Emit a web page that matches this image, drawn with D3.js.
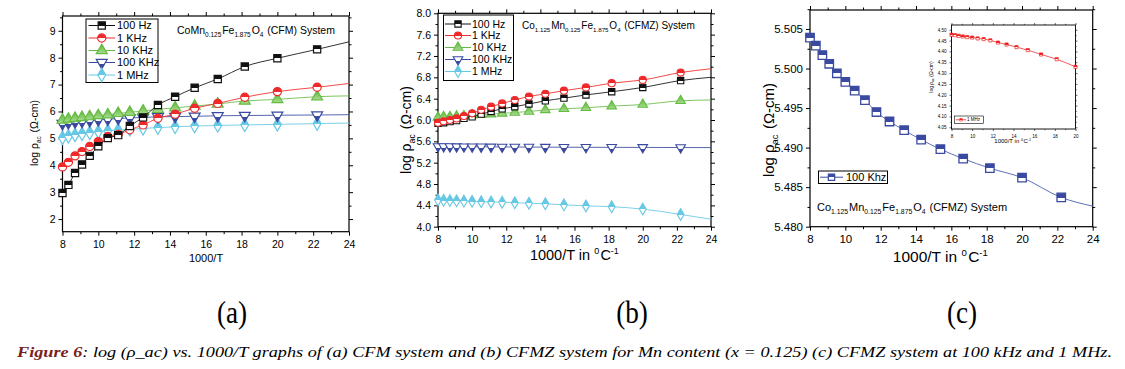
<!DOCTYPE html>
<html><head><meta charset="utf-8">
<script src="https://cdn.jsdelivr.net/npm/d3@7/dist/d3.min.js"></script>
<style>
body{margin:0;background:#fff;}
svg text{font-family:"Liberation Sans",Arial,sans-serif;}
svg text.serif{font-family:"Liberation Serif","Times New Roman",serif;}
</style></head>
<body><svg id="c" width="1125" height="369"></svg>
<script>
// ---------- DATA ----------
const xInv = [8, 8.33, 8.7, 9.09, 9.52, 10, 10.53, 11.11, 11.76, 12.5, 13.33, 14.29, 15.38, 16.67, 18.18, 20, 22.22];
const xEnd = 24;
const seriesNames = ["100 Hz", "1 KHz", "10 KHz", "100 KHz", "1 MHz"];
// panel (a) CFM
const cfm100Hz  = [2.97, 3.27, 3.71, 4.03, 4.35, 4.71, 5.01, 5.12, 5.46, 5.78, 6.24, 6.55, 6.88, 7.21, 7.67, 7.98, 8.31];
const cfm1KHz   = [3.94, 4.11, 4.35, 4.51, 4.70, 4.88, 5.07, 5.15, 5.32, 5.50, 5.75, 5.90, 6.12, 6.30, 6.53, 6.74, 6.90];
const cfm10KHz  = [5.68, 5.72, 5.75, 5.78, 5.81, 5.85, 5.88, 5.93, 5.97, 6.02, 6.08, 6.14, 6.20, 6.28, 6.39, 6.45, 6.55];
const cfm100KHz = [5.55, 5.58, 5.61, 5.63, 5.66, 5.69, 5.71, 5.74, 5.76, 5.78, 5.80, 5.81, 5.82, 5.84, 5.85, 5.86, 5.87];
const cfm1MHz   = [5.02, 5.08, 5.13, 5.17, 5.21, 5.25, 5.28, 5.31, 5.34, 5.37, 5.40, 5.43, 5.46, 5.48, 5.50, 5.52, 5.55];
const cfmEnd    = [8.59, 7.04, 6.58, 5.88, 5.57];
// panel (b) CFMZ
const cfmz100Hz  = [5.94, 5.95, 5.97, 5.99, 6.03, 6.06, 6.11, 6.16, 6.21, 6.25, 6.30, 6.36, 6.41, 6.47, 6.53, 6.61, 6.74];
const cfmz1KHz   = [5.95, 5.975, 6.00, 6.03, 6.075, 6.125, 6.19, 6.25, 6.31, 6.375, 6.44, 6.49, 6.55, 6.61, 6.69, 6.75, 6.89];
const cfmz10KHz  = [6.05, 6.06, 6.06, 6.07, 6.075, 6.09, 6.10, 6.11, 6.125, 6.14, 6.16, 6.19, 6.21, 6.23, 6.26, 6.29, 6.36];
const cfmz100KHz = [5.5039, 5.5029, 5.5017, 5.5006, 5.4994, 5.4983, 5.4972, 5.4960, 5.4945, 5.4933, 5.4922, 5.4910, 5.4898, 5.4886, 5.4874, 5.4862, 5.4837];
const cfmz1MHz   = [4.50, 4.495, 4.49, 4.485, 4.48, 4.475, 4.47, 4.465, 4.46, 4.45, 4.44, 4.43, 4.41, 4.39, 4.375, 4.33, 4.23];
const cfmzEnd    = [6.80, 6.96, 6.375, 5.4826, 4.14];
// panel (c) inset, 1 MHz
const inset1MHz = [4.477, 4.475, 4.472, 4.469, 4.466, 4.464, 4.460, 4.457, 4.451, 4.441, 4.432, 4.420, 4.406, 4.386, 4.364, 4.329];
// tick labels
const ticksA_x = [8, 10, 12, 14, 16, 18, 20, 22, 24];
const ticksA_y = [2, 3, 4, 5, 6, 7, 8, 9];
const ticksB_y = [4.0, 4.4, 4.8, 5.2, 5.6, 6.0, 6.4, 6.8, 7.2, 7.6, 8.0];
const ticksC_y = [5.480, 5.485, 5.490, 5.495, 5.500, 5.505];
const ticksInset_x = [8, 10, 12, 14, 16, 18, 20];
const ticksInset_y = [4.05, 4.10, 4.15, 4.20, 4.25, 4.30, 4.35, 4.40, 4.45, 4.50];

// ---------- STYLE ----------
const colors = ["#111111", "#ee2a2a", "#66bb44", "#3a4aa0", "#66c8e4"];
const symbols = [d3.symbolSquare, d3.symbolCircle, d3.symbolTriangle, "tdown", d3.symbolDiamond];

const svg = d3.select("#c");
const defs = svg.append("defs");
function grad(id, col) {
  const g = defs.append("linearGradient").attr("id", id).attr("x1", 0).attr("y1", 0).attr("x2", 0).attr("y2", 1);
  g.append("stop").attr("offset", "0%").attr("stop-color", col);
  g.append("stop").attr("offset", "52%").attr("stop-color", col);
  g.append("stop").attr("offset", "52%").attr("stop-color", "#fff");
  g.append("stop").attr("offset", "100%").attr("stop-color", "#fff");
}
colors.forEach((c, i) => grad("g" + i, c));
grad("gInset", "#ee2222");
defs.append("linearGradient").attr("id","gGreen").attr("x1",0).attr("y1",0).attr("x2",0).attr("y2",1)
  .call(g=>{g.append("stop").attr("offset","0%").attr("stop-color","#5cb536");g.append("stop").attr("offset","100%").attr("stop-color","#a9dc8f");});

function symPath(type, size) {
  if (type === "tdown") return d3.symbol(d3.symbolTriangle, size)();
  return d3.symbol(type, size)();
}

function marker(g, type, size, x, y, fill, stroke, sw) {
  return g.append("path").attr("d", symPath(type, size))
    .attr("transform", `translate(${x},${y})` + (type === "tdown" ? " rotate(180)" : ""))
    .attr("fill", fill).attr("stroke", stroke).attr("stroke-width", sw);
}

function frame(g, x, y, opts) {
  const { xr, yr, xDom, yDom, xMaj, xMin, yMaj, yMin, fs, yFmt } = opts;
  const X = d3.scaleLinear().domain(xDom).range(xr);
  const Y = d3.scaleLinear().domain(yDom).range(yr);
  const tl = opts.tl || 4, tm = opts.tm || 2.5;
  const mk = (axisF, scale, vals, len, fmt) => axisF(scale).tickValues(vals).tickSize(len).tickSizeOuter(0).tickFormat(fmt || "");
  const bot = g.append("g").attr("transform", `translate(0,${yr[0]})`);
  bot.call(mk(d3.axisBottom, X, xMaj, tl, d3.format("d")));
  bot.append("g").call(mk(d3.axisBottom, X, xMin, tm));
  const top = g.append("g").attr("transform", `translate(0,${yr[1]})`);
  top.call(mk(d3.axisTop, X, xMaj, tl));
  top.append("g").call(mk(d3.axisTop, X, xMin, tm));
  const lef = g.append("g").attr("transform", `translate(${xr[0]},0)`);
  lef.call(mk(d3.axisLeft, Y, yMaj, tl, yFmt));
  lef.append("g").call(mk(d3.axisLeft, Y, yMin, tm));
  const rig = g.append("g").attr("transform", `translate(${xr[1]},0)`);
  rig.call(mk(d3.axisRight, Y, yMaj, tl));
  rig.append("g").call(mk(d3.axisRight, Y, yMin, tm));
  g.selectAll(".domain").remove();
  g.selectAll(".tick line").attr("stroke", "#000").attr("stroke-width", opts.tw || 1);
  g.selectAll(".tick text").attr("font-size", fs).attr("fill", "#000");
  bot.selectAll(".tick text").attr("dy", "0.85em").attr("y", tl + 3);
  lef.selectAll(".tick text").attr("x", -(tl + 3));
  g.append("rect").attr("x", xr[0]).attr("y", yr[1]).attr("width", xr[1] - xr[0]).attr("height", yr[0] - yr[1])
    .attr("fill", "none").attr("stroke", "#000").attr("stroke-width", opts.fw || 1.2);
  return { X, Y };
}
const range = (a, b, s) => d3.range(a, b + s / 2, s).map(v => +v.toFixed(6));

function series(g, S, xsArr, ys, endVal, i, size, sw, lw) {
  const pts = xsArr.map((x, k) => [x, ys[k]]);
  if (endVal != null) pts.push([xEnd, endVal]);
  g.append("path").datum(pts)
    .attr("d", d3.line().x(d => S.X(d[0])).y(d => S.Y(d[1])).curve(d3.curveMonotoneX))
    .attr("fill", "none").attr("stroke", colors[i]).attr("stroke-width", lw).attr("opacity", 0.85);
  xsArr.forEach((x, k) => {
    marker(g, symbols[i], size, S.X(x), S.Y(ys[k]), i === 2 ? "url(#gGreen)" : `url(#g${i})`, colors[i], sw);
  });
}

function subText(g, x, y, parts, fs, anchor, extra) {
  const t = g.append("text").attr("x", x).attr("y", y).attr("font-size", fs).attr("text-anchor", anchor || "start").attr("fill", "#000");
  if (extra) extra(t);
  parts.forEach(p => {
    if (typeof p === "string") t.append("tspan").text(p);
    else {
      const sp = t.append("tspan").text(p.t).attr("font-size", fs * 0.62);
      sp.attr("dy", p.sub ? fs * 0.28 : -fs * 0.4);
      t.append("tspan").attr("dy", p.sub ? -fs * 0.28 : fs * 0.4).text("\u200a");
    }
  });
  return t;
}

function legend(g, box, rowYs, lx0, lx1, tx, fs, size, sw, names, idx, grads, cols) {
  g.append("rect").attr("x", box[0]).attr("y", box[1]).attr("width", box[2]).attr("height", box[3])
    .attr("fill", "#fff").attr("stroke", "#000").attr("stroke-width", 1);
  names.forEach((n, k) => {
    const y = rowYs[k];
    const c = cols[k];
    g.append("line").attr("x1", lx0).attr("x2", lx1).attr("y1", y).attr("y2", y).attr("stroke", c).attr("stroke-width", 1);
    marker(g, idx[k], size, (lx0 + lx1) / 2, y, grads[k], c, sw);
    g.append("text").attr("x", tx).attr("y", y).attr("dy", "0.36em").attr("font-size", fs).text(n);
  });
}

// ---------- PANEL A ----------
{
  const g = svg.append("g");
  const S = frame(g, 0, 0, { xr: [62.5, 349], yr: [231.7, 16], xDom: [8, 24], yDom: [1.53, 9.55],
    xMaj: ticksA_x, xMin: range(9, 23, 2), yMaj: ticksA_y, yMin: range(2.5, 9.5, 1), fs: 10.5, yFmt: d3.format("d") });
  const data = [cfm100Hz, cfm1KHz, cfm10KHz, cfm100KHz, cfm1MHz];
  [4, 3, 2, 1, 0].forEach(i => series(g, S, xInv, data[i], cfmEnd[i], i, 52, 1.2, 1));
  legend(g, [86, 19, 72, 63.5], [25.5, 38, 50.5, 62.5, 75], 88.5, 115, 117, 11, 52, 1.2,
    seriesNames, symbols, colors.map((c, i) => i === 2 ? "url(#gGreen)" : `url(#g${i})`), colors);
  subText(g, 177, 34, ["CoMn", { t: "0.125", sub: 1 }, "Fe", { t: "1.875", sub: 1 }, "O", { t: "4", sub: 1 }, " (CFM) System"], 10.5);
  g.append("text").attr("x", 206).attr("y", 262).attr("font-size", 11).attr("text-anchor", "middle").text("1000/T");
  subText(g, 0, 0, ["log \u03c1", { t: "ac", sub: 1 }, " (\u03a9-cm)"], 10.5, "middle",
    t => t.attr("transform", "translate(38,133) rotate(-90)"));
}

// ---------- PANEL B ----------
{
  const g = svg.append("g");
  const S = frame(g, 0, 0, { xr: [438, 711], yr: [226.7, 13.3], xDom: [8, 24], yDom: [4, 8],
    xMaj: ticksA_x, xMin: range(9, 23, 2), yMaj: ticksB_y, yMin: range(4.2, 7.8, 0.4), fs: 10.5, yFmt: d3.format(".1f") });
  const data = [cfmz100Hz, cfmz1KHz, cfmz10KHz, cfmz100KHz, cfmz1MHz];
  [4, 3, 2, 0, 1].forEach(i => series(g, S, xInv, data[i], cfmzEnd[i], i, 40, 1.1, 1));
  legend(g, [443.5, 15, 70, 65.5], [24, 35.5, 47.5, 59.5, 71.5], 445, 471, 472, 10.5, 40, 1.1,
    seriesNames, symbols, colors.map((c, i) => i === 2 ? "url(#gGreen)" : `url(#g${i})`), colors);
  subText(g, 522, 29, ["Co", { t: "1.125", sub: 1 }, "Mn", { t: "0.125", sub: 1 }, "Fe", { t: "1.875", sub: 1 }, "O", { t: "4", sub: 1 }, " (CFMZ) System"], 10);
  subText(g, 575, 260, ["1000/T in ", { t: "0" }, "C", { t: "-1" }], 14.5, "middle");
  subText(g, 0, 0, ["log \u03c1", { t: "ac", sub: 1 }, " (\u03a9-cm)"], 14, "middle",
    t => t.attr("transform", "translate(411,130) rotate(-90)"));
}

// ---------- PANEL C ----------
{
  const g = svg.append("g");
  const S = frame(g, 0, 0, { xr: [810, 1092.7], yr: [226.7, 10], xDom: [8, 24], yDom: [5.48, 5.5074],
    xMaj: ticksA_x, xMin: range(9, 23, 2), yMaj: ticksC_y, yMin: range(5.4825, 5.5075, 0.005), fs: 11.5, yFmt: d3.format(".3f") });
  const pts = xInv.map((x, k) => [x, cfmz100KHz[k]]).concat([[xEnd, cfmzEnd[3]]]);
  g.append("path").datum(pts).attr("d", d3.line().x(d => S.X(d[0])).y(d => S.Y(d[1])).curve(d3.curveMonotoneX))
    .attr("fill", "none").attr("stroke", "#6070b8").attr("stroke-width", 1);
  xInv.forEach((x, k) => marker(g, d3.symbolSquare, 72, S.X(x), S.Y(cfmz100KHz[k]), "url(#g3)", colors[3], 1.3));
  legend(g, [818.5, 171, 69, 12.5], [177.2], 820, 843, 846, 11, 40, 1.2, ["100 Khz"], [d3.symbolSquare], ["url(#g3)"], [colors[3]]);
  subText(g, 817, 211, ["Co", { t: "1.125", sub: 1 }, "Mn", { t: "0.125", sub: 1 }, "Fe", { t: "1.875", sub: 1 }, "O", { t: "4", sub: 1 }, " (CFMZ) System"], 11);
  subText(g, 941, 262, ["1000/T in ", { t: "0" }, "C", { t: "-1" }], 15.5, "middle");
  subText(g, 0, 0, ["log \u03c1", { t: "ac", sub: 1 }, " (\u03a9-cm)"], 15, "middle",
    t => t.attr("transform", "translate(774,130) rotate(-90)"));

  // inset
  const gi = svg.append("g");
  gi.append("rect").attr("x", 951).attr("y", 25).attr("width", 124.7).attr("height", 104).attr("fill", "#fff");
  const SI = frame(gi, 0, 0, { xr: [951.5, 1075.5], yr: [129, 25], xDom: [8, 20], yDom: [4.042, 4.522],
    xMaj: ticksInset_x, xMin: range(9, 19, 2), yMaj: ticksInset_y, yMin: range(4.075, 4.475, 0.05), fs: 4.5, tl: 2, tm: 1.2, tw: 0.6, fw: 0.9,
    yFmt: d3.format(".2f") });
  const xi = xInv.slice(0, 15).concat([20]);
  gi.append("path").datum(xi.map((x, k) => [x, inset1MHz[k]]))
    .attr("d", d3.line().x(d => SI.X(d[0])).y(d => SI.Y(d[1])).curve(d3.curveMonotoneX))
    .attr("fill", "none").attr("stroke", "#ee3333").attr("stroke-width", 0.8);
  xi.forEach((x, k) => marker(gi, d3.symbolSquare, 10, SI.X(x), SI.Y(inset1MHz[k]), "url(#gInset)", "#ee2222", 0.7));
  gi.append("rect").attr("x", 954.5).attr("y", 116).attr("width", 29).attr("height", 7.5).attr("fill", "#fff").attr("stroke", "#000").attr("stroke-width", 0.6);
  gi.append("line").attr("x1", 956).attr("x2", 966).attr("y1", 119.8).attr("y2", 119.8).attr("stroke", "#ee2222").attr("stroke-width", 0.8);
  marker(gi, d3.symbolSquare, 6, 961, 119.8, "url(#gInset)", "#ee2222", 0.6);
  gi.append("text").attr("x", 967).attr("y", 119.8).attr("dy", "0.36em").attr("font-size", 4.5).text("1 MHz");
  subText(gi, 1013, 143, ["1000/T in ", { t: "0" }, "C", { t: "-1" }], 6, "middle");
  subText(gi, 0, 0, ["log \u03c1", { t: "ac", sub: 1 }, " (\u03a9-cm)"], 5, "middle",
    t => t.attr("transform", "translate(933,77) rotate(-90)"));
}

// ---------- LABELS & CAPTION ----------
[["(a)", 232], ["(b)", 632], ["(c)", 962]].forEach(([t, x]) => {
  svg.append("text").attr("class", "serif").attr("x", x).attr("y", 323).attr("text-anchor", "middle")
    .attr("font-size", 32).attr("transform", `translate(${x},0) scale(0.85,1) translate(${-x},0)`).text(t);
});
const cap = svg.append("text").attr("class", "serif").attr("x", 17).attr("y", 357).attr("font-size", 15)
  .attr("font-style", "italic")
  .attr("textLength", 1095).attr("lengthAdjust", "spacingAndGlyphs");
cap.append("tspan").attr("font-weight", "bold").attr("fill", "#7a1f1f").text("Figure 6");
cap.append("tspan").attr("fill", "#000").text(": log (\u03c1_ac) vs. 1000/T graphs of (a) CFM system and (b) CFMZ system for Mn content (x = 0.125) (c) CFMZ system at 100 kHz and 1 MHz.");
</script></body></html>
